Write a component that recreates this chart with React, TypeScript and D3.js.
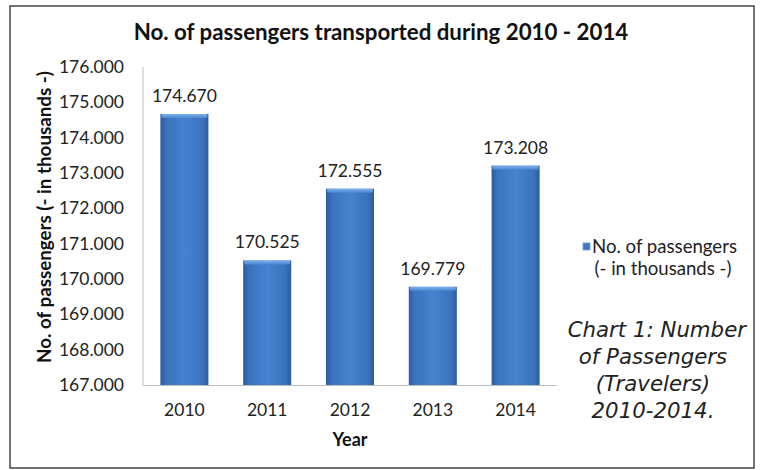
import React from "react";
import * as d3 from "d3";

const years = ["2010", "2011", "2012", "2013", "2014"];
const passengers = [174.67, 170.525, 172.555, 169.779, 173.208];
const valueLabels = ["174.670", "170.525", "172.555", "169.779", "173.208"];
const yTicks = [167, 168, 169, 170, 171, 172, 173, 174, 175, 176];
const chartTitle = "No. of passengers transported during 2010 - 2014";
const yTitle = "No. of passengers (- in thousands -)";
const xTitle = "Year";
const legendLines = ["No. of passengers", "(- in thousands -)"];
const captionLines = ["Chart 1: Number", "of Passengers", "(Travelers)", "2010-2014."];

const W = 764;
const H = 470;
const FONT = "Lato, 'Open Sans', sans-serif";

export default function App() {
  const x = d3
    .scaleBand<string>()
    .domain(years)
    .range([143, 557])
    .paddingInner(0.42)
    .paddingOuter(0.21);
  const y = d3.scaleLinear().domain([167, 176]).range([385, 67]);
  const fmt = d3.format(".3f");

  return (
    <svg
      width={W}
      height={H}
      style={{ position: "absolute", left: 0, top: 0, background: "#fff" }}
    >
      <defs>
        <linearGradient id="barGrad" x1="0" x2="1" y1="0" y2="0">
          <stop offset="0" stopColor="#2c5c9e" />
          <stop offset="0.12" stopColor="#3a72bd" />
          <stop offset="0.5" stopColor="#4683cf" />
          <stop offset="0.88" stopColor="#3a72bd" />
          <stop offset="1" stopColor="#2c5c9e" />
        </linearGradient>
        <linearGradient id="capGrad" x1="0" x2="0" y1="0" y2="1">
          <stop offset="0" stopColor="#7fb0ea" />
          <stop offset="1" stopColor="#4a87d2" />
        </linearGradient>
      </defs>
      <rect x={0} y={0} width={W} height={H} fill="#fff" />
      <rect
        x={10}
        y={6}
        width={744}
        height={462}
        fill="#fff"
        stroke="#444"
        strokeWidth={1.5}
      />
      <text
        x={381}
        y={40}
        textAnchor="middle"
        fontFamily={FONT}
        fontWeight="bold"
        fontSize={22.3}
        fill="#111"
      >
        {chartTitle}
      </text>

      {/* y axis */}
      <line x1={143} x2={143} y1={y(176)} y2={y(167)} stroke="#bdbdbd" strokeWidth={1} />
      {yTicks.map((t) => (
        <text
          key={t}
          x={124}
          y={y(t)}
          dy="0.35em"
          textAnchor="end"
          fontFamily={FONT}
          fontSize={17.5}
          fill="#222"
        >
          {fmt(t)}
        </text>
      ))}
      <text
        transform={`translate(51,${217}) rotate(-90)`}
        textAnchor="middle"
        fontFamily={FONT}
        fontWeight="bold"
        fontSize={18.8}
        fill="#111"
      >
        {yTitle}
      </text>

      {/* bars */}
      {years.map((yr, i) => {
        const bx = x(yr)!;
        const bw = x.bandwidth();
        const top = y(passengers[i]);
        return (
          <g key={yr}>
            <rect x={bx} y={top} width={bw} height={y(167) - top} fill="url(#barGrad)" />
            <rect x={bx + 1} y={top} width={bw - 2} height={4} fill="url(#capGrad)" rx={1.5} />
            <text
              x={bx + bw / 2}
              y={top - 12}
              textAnchor="middle"
              fontFamily={FONT}
              fontSize={17.5}
              fill="#222"
            >
              {valueLabels[i]}
            </text>
          </g>
        );
      })}

      {/* x axis */}
      <line x1={143} x2={557} y1={385.5} y2={385.5} stroke="#bdbdbd" strokeWidth={1} />
      {years.map((yr) => (
        <text
          key={yr}
          x={x(yr)! + x.bandwidth() / 2}
          y={416}
          textAnchor="middle"
          fontFamily={FONT}
          fontSize={17.5}
          fill="#222"
        >
          {yr}
        </text>
      ))}
      <text
        x={350}
        y={446}
        textAnchor="middle"
        fontFamily={FONT}
        fontWeight="bold"
        fontSize={18}
        fill="#111"
      >
        {xTitle}
      </text>

      {/* legend */}
      <rect x={583} y={243} width={7} height={7} fill="#3d77c4" stroke="#6f9fd8" strokeWidth={0.8} />
      <text x={592} y={253} fontFamily={FONT} fontSize={18.6} fill="#222">
        {legendLines[0]}
      </text>
      <text x={663} y={275} textAnchor="middle" fontFamily={FONT} fontSize={18.6} fill="#222">
        {legendLines[1]}
      </text>

      {/* caption */}
      {captionLines.map((l, i) => (
        <text
          key={l}
          x={i === 0 ? 746 : 653}
          y={337 + i * 27}
          textAnchor={i === 0 ? "end" : "middle"}
          fontFamily="'DejaVu Sans', sans-serif"
          fontStyle="italic"
          fontSize={21.3}
          fill="#222"
        >
          {l}
        </text>
      ))}
    </svg>
  );
}
